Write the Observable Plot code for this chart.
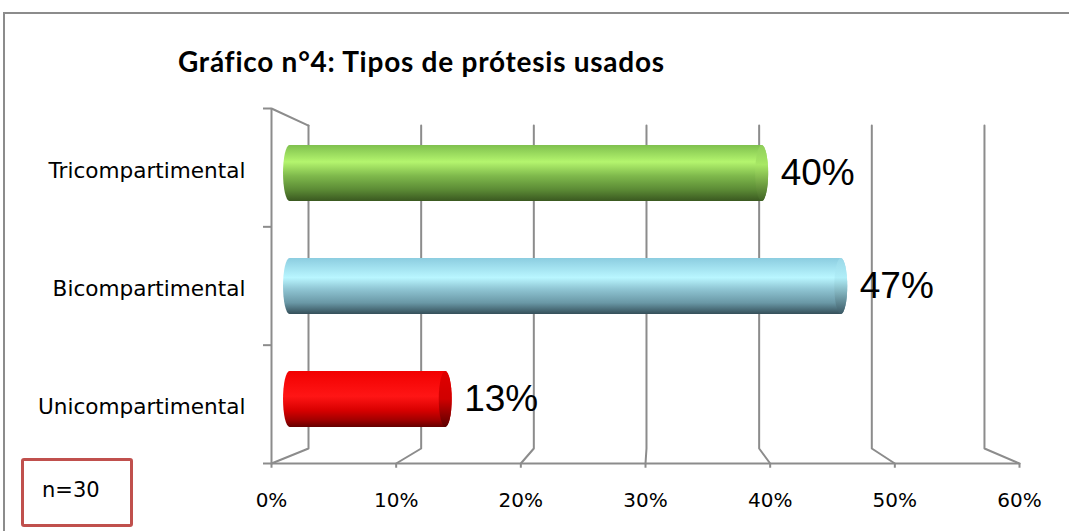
<!DOCTYPE html>
<html>
<head>
<meta charset="utf-8">
<script src="https://cdn.jsdelivr.net/npm/d3@7"></script>
<script src="https://cdn.jsdelivr.net/npm/@observablehq/plot@0.6"></script>
<style>
  html, body { margin: 0; padding: 0; background: #fff; }
  #wrap { position: relative; width: 1069px; height: 531px; overflow: hidden; font-family: "DejaVu Sans", sans-serif; }
  #frame { position: absolute; left: 3px; top: 12px; width: 1070px; height: 530px; border-left: 2px solid #8c8c8c; border-top: 2px solid #8c8c8c; box-sizing: border-box; }
  #title { position: absolute; left: 178px; top: 45px; font-family: Lato, sans-serif; font-weight: 700; font-size: 28px; letter-spacing: 0.75px; line-height: 1.2; color: #000; white-space: nowrap; }
  #nbox { position: absolute; left: 21px; top: 458px; width: 112px; height: 69px; border: 3.5px solid #c0504d; border-radius: 3px; box-sizing: border-box; }
  #ntext { position: absolute; left: 42px; top: 478px; font-size: 21px; color: #000; }
  #chart { position: absolute; left: 0; top: 0; }
</style>
</head>
<body>
<div id="wrap">
  <div id="frame"></div>
  <div id="chart"></div>
  <div id="title">Gráfico n°4: Tipos de prótesis usados</div>
  <div id="nbox"></div>
  <div id="ntext">n=30</div>
</div>
<script>
// ---- data ----
const categories = ["Unicompartimental", "Bicompartimental", "Tricompartimental"];
const values = [4 / 30, 14 / 30, 12 / 30];
const valueLabels = ["13%", "47%", "40%"];
const xTicks = [0, 0.1, 0.2, 0.3, 0.4, 0.5, 0.6];
const gradientIds = ["gRed", "gBlue", "gGreen"];

// ---- pseudo-3D projection (depth t: 0 = front, 1 = back wall) ----
const DX = 0.02968, SX = 0.0963;   // x shift / shrink at the back
const DY = 0.1268, SY = 0.0903;    // y shift / shrink at the back
const px = (v, t) => t * DX + (1 - t * SX) * v;
const py = (y, t) => t * DY + (1 - t * SY) * y;
const BAR_T = 0.5;
const CAP = 0.0052;       // cap half-width in x units
const HALF = 0.2366;      // half bar height in y units
const nCat = categories.length;
const xMax = xTicks[xTicks.length - 1];

const bars = categories.map((c, i) => ({
  cat: c, value: values[i], label: valueLabels[i], grad: gradientIds[i],
  x0: px(0, BAR_T), x1: px(values[i], BAR_T) - 0.002,
  yc: py(i + 0.5, BAR_T)
}));

// gridline polylines: front floor point -> back floor -> back top
const grid = [];
xTicks.forEach((v, k) => {
  grid.push({k, x: px(v, 0), y: 0});
  grid.push({k, x: px(v, 1), y: py(0, 1)});
  grid.push({k, x: px(v, 1), y: py(nCat, 1)});
});
// left wall top edge
const wallTop = [{x: px(0, 0), y: nCat}, {x: px(0, 1), y: py(nCat, 1)}];
const catTicks = d3.range(nCat + 1);

const gray = "#8c8c8c";
const chart = Plot.plot({
  width: 1069,
  height: 531,
  marginLeft: 271,
  marginRight: 50,
  marginTop: 108,
  marginBottom: 68,
  style: {fontFamily: "'DejaVu Sans', sans-serif", fontSize: "20px", color: "#000", background: "transparent", overflow: "visible"},
  x: {domain: [0, xMax], ticks: xTicks, tickFormat: d3.format(".0%"), tickSize: 0, tickPadding: 29, label: null},
  y: {domain: [0, nCat], axis: null},
  marks: [
    // gridlines on the back wall and floor diagonals
    Plot.line(grid, {x: "x", y: "y", z: "k", stroke: gray, strokeWidth: 2}),
    // left wall
    Plot.ruleX([0], {y1: 0, y2: nCat, stroke: gray, strokeWidth: 2}),
    Plot.line(wallTop, {x: "x", y: "y", stroke: gray, strokeWidth: 2}),
    // front floor line
    Plot.ruleY([0], {stroke: gray, strokeWidth: 2}),
    // category tick marks on the left wall
    Plot.ruleY(catTicks, {x1: -0.0064, x2: 0, stroke: gray, strokeWidth: 2}),
    // x tick marks
    Plot.ruleX(xTicks, {y1: 0, y2: -0.04, stroke: gray, strokeWidth: 2}),
    // category labels
    Plot.text(categories, {x: 0, y: (d, i) => i + 0.5, text: d => d, textAnchor: "end", dx: -26, dy: 3, fontSize: 21.6, fill: "#000"}),
    // cylinder bodies
    Plot.rect(bars, {x1: d => d.x0 - CAP, x2: d => d.x1 + CAP, y1: d => d.yc - HALF, y2: d => d.yc + HALF, fill: d => `url(#${d.grad})`, rx: 6.5, ry: 28, className: "cyl"}),
    // cylinder end caps
    Plot.rect(bars, {x1: d => d.x1 - CAP, x2: d => d.x1 + CAP, y1: d => d.yc - HALF, y2: d => d.yc + HALF, fill: d => `url(#${d.grad}Cap)`, rx: 6.5, ry: 28, className: "cap"}),
    // value labels
    Plot.text(bars, {x: d => d.x1 + CAP, y: "yc", text: "label", textAnchor: "start", dx: 12, fontSize: 37, fontFamily: "'Liberation Sans', Arial, sans-serif", fill: "#000"})
  ]
});

// gradients
const defs = d3.select(chart).insert("defs", ":first-child");
const grads = {
  gGreen: [["0", "#7fc04e"], ["0.3", "#b4f56e"], ["0.55", "#7fb94c"], ["0.8", "#5b8a35"], ["1", "#3a5820"]],
  gBlue: [["0", "#8ccde0"], ["0.35", "#b9f6ff"], ["0.55", "#90c6d4"], ["0.8", "#6a98a6"], ["1", "#344f59"]],
  gRed: [["0", "#f20000"], ["0.45", "#ff1515"], ["0.7", "#d80000"], ["0.88", "#a00000"], ["1", "#650000"]]
};
const capGrads = {
  gGreenCap: [["0", "#8fce5a"], ["0.35", "#a8e865"], ["1", "#3f6224"]],
  gBlueCap: [["0", "#9ad8e8"], ["0.35", "#b0eef8"], ["1", "#3a5864"]],
  gRedCap: [["0", "#e00000"], ["0.5", "#d00000"], ["1", "#5a0000"]]
};
for (const [id, stops] of Object.entries({...grads, ...capGrads})) {
  const g = defs.append("linearGradient").attr("id", id).attr("x1", 0).attr("y1", 0).attr("x2", 0).attr("y2", 1);
  for (const [o, c] of stops) g.append("stop").attr("offset", o).attr("stop-color", c);
}
document.getElementById("chart").appendChild(chart);
</script>
</body>
</html>
